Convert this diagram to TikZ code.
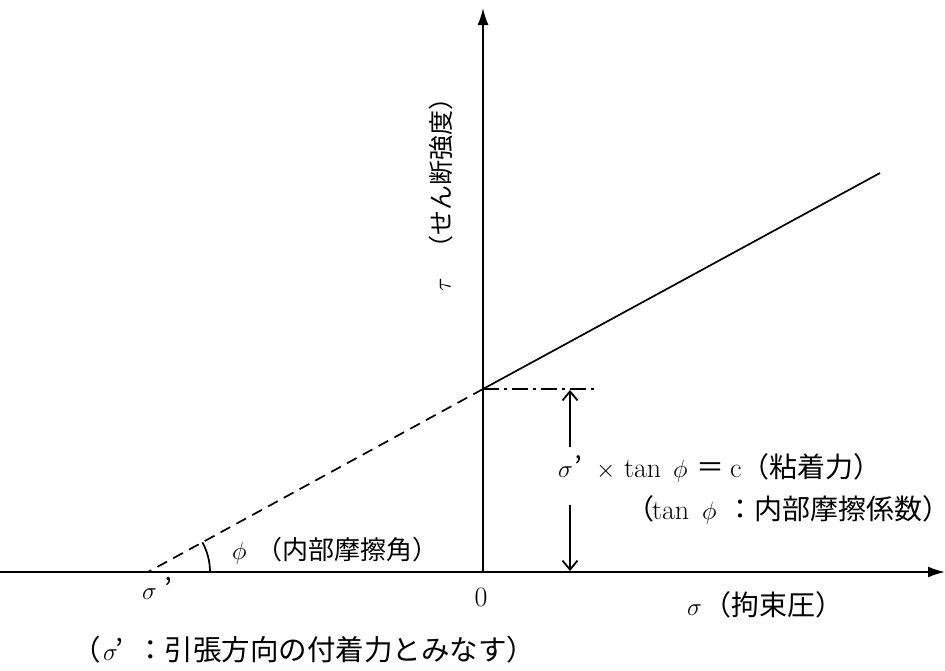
\documentclass[tikz,border=0pt]{standalone}
\usepackage{fontspec}
\newfontfamily\jp{Noto Sans CJK JP}
\usetikzlibrary{arrows.meta}
\newcommand\putat[2]{\makebox[0pt][l]{\hspace*{#1}#2}}
\begin{document}
\begin{tikzpicture}[x=1pt,y=-1pt,
  axis/.style={line width=1.8pt,-{Latex[length=17pt,width=11pt]}},
  ln/.style={line width=1.7pt},
  dim/.style={line width=1.8pt,-{Straight Barb[length=9pt,width=15pt]}},
  lblS/.style={inner sep=0pt,font=\fontsize{25}{29}\selectfont},
  lblP/.style={inner sep=0pt,font=\fontsize{26}{30}\selectfont},
  lblA/.style={inner sep=0pt,font=\fontsize{28.5}{32}\selectfont},
  lblB/.style={inner sep=0pt,font=\fontsize{28}{32}\selectfont}]
\useasboundingbox (0,0) rectangle (945,670);
\coordinate (L) at (0,572);
\coordinate (R) at (945,572);
\coordinate (O) at (483,572);
\coordinate (T) at (483,8);
\coordinate (C) at (483,389);
\coordinate (S) at (148,572);
\coordinate (E) at (880,173);
\coordinate (D) at (597,389);
\coordinate (U1) at (570,447);
\coordinate (U2) at (570,390);
\coordinate (W1) at (570,505);
\coordinate (W2) at (570,571);
% axes
\draw[axis] (L) -- (R);
\draw[axis] (O) -- (T);
% envelope
\draw[ln] (C) -- (E);
\draw[ln,dash pattern=on 11pt off 7pt] (C) -- (S);
\draw[ln,dash pattern=on 16pt off 5pt on 3pt off 5pt] (C) -- (D);
% dimension arrows
\draw[dim] (U1) -- (U2);
\draw[dim] (W1) -- (W2);
% angle arc
\draw[ln] (S) ++(62,0) arc[start angle=0,end angle=-28.6,radius=62];
% labels
\node[lblS,anchor=west,rotate=90] (tau) at (441,292)
  {\putat{0pt}{$\tau$}\putat{31pt}{\jp （せん断強度）}\hspace*{206pt}};
\node[lblP,anchor=west] (phi) at (230,551)
  {\putat{2pt}{$\phi$}\putat{26pt}{\jp （内部摩擦角）}\hspace*{208pt}};
\node[lblA,anchor=west] (sp) at (142,588)
  {\putat{0pt}{$\sigma$}\putat{22pt}{\jp ’}\hspace*{36pt}};
\node[lblB] (zero) at (481,597) {0};
\node[lblB,anchor=west] (sig) at (685,605)
  {\putat{2pt}{$\sigma$}\putat{18pt}{\jp （拘束圧）}\hspace*{158pt}};
\node[lblA,anchor=west] (note) at (72,650)
  {\putat{0pt}{\jp （}\putat{31pt}{$\sigma$}\putat{43pt}{\jp ’}\putat{64pt}{\jp ：引張方向の付着力とみなす）}\hspace*{463pt}};
\node[lblB,anchor=west] (eq) at (556,468)
  {\putat{2pt}{$\sigma$}\putat{18pt}{\jp ’}\putat{40pt}{$\times$}\putat{68pt}{tan}\putat{117pt}{$\phi$}\putat{140pt}{\jp ＝}\putat{174pt}{c{\jp （粘着力）}}\hspace*{327pt}};
\node[lblB,anchor=west] (coef) at (626,510)
  {\putat{0pt}{\jp （}\putat{26pt}{tan}\putat{76pt}{$\phi$}\putat{100pt}{\jp ：内部摩擦係数）}\hspace*{296pt}};
\end{tikzpicture}
\end{document}
